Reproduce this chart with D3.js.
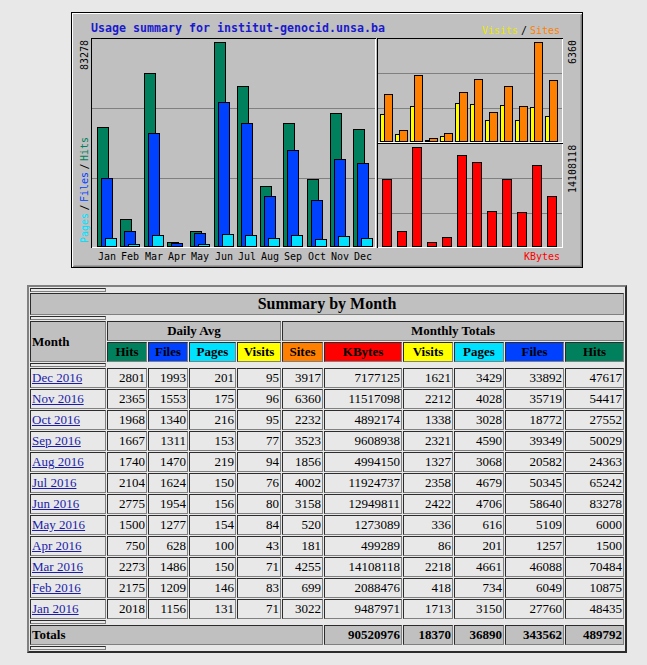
<!DOCTYPE html>
<html><head><meta charset="utf-8">
<script src="https://cdn.jsdelivr.net/npm/d3@7"></script>
<style>
html,body{margin:0;padding:0;background:#E8E8E8;width:647px;height:665px;overflow:hidden;}
svg{position:absolute;left:0;top:0;}
table.sum{position:absolute;left:27px;top:285px;width:600px;table-layout:fixed;border-collapse:separate;border-spacing:1px;border:2px outset #808080;}
table.sum td,table.sum th{border:1px inset #808080;padding:1px;font-family:"Liberation Serif","Times New Roman",serif;font-size:13px;line-height:16px;white-space:nowrap;overflow:hidden;color:#000;}
table.sum th{font-weight:bold;}
table.sum th.gray{background:#C0C0C0;}
table.sum th.title{font-size:16px;line-height:18px;text-align:center;}
table.sum .left{text-align:left;}
table.sum td.num,table.sum th.num{text-align:right;}
table.sum tr.spacer th{padding:1px;line-height:0;font-size:0;}
table.sum a{color:#1c1ca8;text-decoration:underline;}
</style>
</head><body>
<script>
// ---------------- data ----------------
const monthAbbr = ["Jan","Feb","Mar","Apr","May","Jun","Jul","Aug","Sep","Oct","Nov","Dec"];
const yearLabel = "2016";
const siteName = "institut-genocid.unsa.ba";
const dailyHits   = [2018, 2175, 2273, 750, 1500, 2775, 2104, 1740, 1667, 1968, 2365, 2801];
const dailyFiles  = [1156, 1209, 1486, 628, 1277, 1954, 1624, 1470, 1311, 1340, 1553, 1993];
const dailyPages  = [131, 146, 150, 100, 154, 156, 150, 219, 153, 216, 175, 201];
const dailyVisits = [71, 83, 71, 43, 84, 80, 76, 94, 77, 95, 96, 95];
const sites  = [3022, 699, 4255, 181, 520, 3158, 4002, 1856, 3523, 2232, 6360, 3917];
const kbytes = [9487971, 2088476, 14108118, 499289, 1273089, 12949811, 11924737, 4994150, 9608938, 4892174, 11517098, 7177125];
const visits = [1713, 418, 2218, 86, 336, 2422, 2358, 1327, 2321, 1338, 2212, 1621];
const pages  = [3150, 734, 4661, 201, 616, 4706, 4679, 3068, 4590, 3028, 4028, 3429];
const files  = [27760, 6049, 46088, 1257, 5109, 58640, 50345, 20582, 39349, 18772, 35719, 33892];
const hits   = [48435, 10875, 70484, 1500, 6000, 83278, 65242, 24363, 50029, 27552, 54417, 47617];
const totalsRow = [90520976, 18370, 36890, 343562, 489792];
const colLabels = ["Hits","Files","Pages","Visits","Sites","KBytes","Visits","Pages","Files","Hits"];

// ---------------- styles ----------------
const C = {hit:"#00805C", file:"#0040FF", page:"#00E0FF", visit:"#FFFF00", site:"#FF8000", kbyte:"#FF0000",
           grey:"#C0C0C0", dk:"#808080", title:"#1a1acc"};
const colColors = [C.hit,C.file,C.page,C.visit,C.site,C.kbyte,C.visit,C.page,C.file,C.hit];
const colWidths = [76,40,40,47,44,41,78,50,50,59,59];

// ---------------- chart ----------------
const svg = d3.select("body").append("svg").attr("width",647).attr("height",280)
  .attr("shape-rendering","crispEdges");
const mono = "'DejaVu Sans Mono', 'Liberation Mono', monospace";

// outer image box with bevel
svg.append("rect").attr("x",71).attr("y",12).attr("width",512).attr("height",256).attr("fill",C.grey);
const line = (x1,y1,x2,y2,c)=>svg.append("line").attr("x1",x1).attr("y1",y1).attr("x2",x2).attr("y2",y2).attr("stroke",c).attr("stroke-width",1);
line(71,12.5,583,12.5,"#000"); line(71.5,12,71.5,268,"#000");
line(72,13.5,582,13.5,"#fff"); line(72.5,13,72.5,267,"#fff");
line(71,267.5,583,267.5,"#000"); line(582.5,12,582.5,268,"#000");
line(73,266.5,582,266.5,C.dk); line(581.5,14,581.5,267,C.dk);
line(74,265.5,581,265.5,"#a0a0a0"); line(580.5,15,580.5,266,"#a0a0a0");

// panels
const main = {x0:91, x1:375, y0:38, y1:247};
const pVS  = {x0:377, x1:562, y0:38, y1:142};
const pKB  = {x0:377, x1:562, y0:143, y1:247};
function panel(p){
  const g = d3.scaleLinear().domain([0,3]).range([p.y1,p.y0]);
  [1,2].forEach(k=>{ const y=Math.ceil(g(k)); line(p.x0+1,y+0.5,p.x1,y+0.5,C.dk); });
  line(p.x0,p.y0+0.5,p.x1+1,p.y0+0.5,"#000"); line(p.x0+0.5,p.y0,p.x0+0.5,p.y1+1,"#000");
  line(p.x0+1,p.y1+0.5,p.x1+1,p.y1+0.5,"#fff"); line(p.x1+0.5,p.y0+1,p.x1+0.5,p.y1+1,"#fff");
}
[main,pVS,pKB].forEach(panel);

const xMain = d3.scaleBand().domain(monthAbbr).range([97, 97+12*23.3]);
const xSide = d3.scaleBand().domain(monthAbbr).range([380, 380+12*15]);
const yMain = d3.scaleLinear().domain([0, d3.max(hits)]).range([246, 42]);
const yVS   = d3.scaleLinear().domain([0, d3.max(sites.concat(visits))]).range([141, 42]);
const yKB   = d3.scaleLinear().domain([0, d3.max(kbytes)]).range([246, 147]);

function bars(vals, xs, off, w, ys, base, color){
  svg.append("g").selectAll("rect").data(vals).join("rect")
    .attr("x",(d,i)=>Math.round(xs(monthAbbr[i]))+off+0.5)
    .attr("y",d=>Math.round(ys(d))+0.5)
    .attr("width",w)
    .attr("height",d=>Math.max(0, base-Math.round(ys(d))))
    .attr("fill",color).attr("stroke","#000").attr("stroke-width",1);
}
bars(hits,  xMain, 0, 11, yMain, 246, C.hit);
bars(files, xMain, 4, 11, yMain, 246, C.file);
bars(pages, xMain, 8, 11, yMain, 246, C.page);
bars(visits, xSide, 0, 5, yVS, 141, C.visit);
bars(sites,  xSide, 4, 8, yVS, 141, C.site);
bars(kbytes, xSide, 2, 9, yKB, 246, C.kbyte);

// texts
svg.append("text").attr("x",91).attr("y",32).attr("font-family",mono).attr("font-weight","bold")
  .attr("font-size","11.6px").attr("fill",C.title).attr("textLength",294).attr("lengthAdjust","spacing")
  .attr("shape-rendering","auto")
  .text("Usage summary for "+siteName);

svg.append("g").selectAll("text").data(monthAbbr).join("text")
  .attr("x",d=>Math.round(xMain(d))+10).attr("y",260).attr("text-anchor","middle")
  .attr("font-family",mono).attr("font-size","10px").attr("fill","#000").text(d=>d);

function upText(x,y,str,color){
  svg.append("text").attr("transform",`translate(${x},${y}) rotate(-90)`)
    .attr("font-family",mono).attr("font-size","10px").attr("fill",color).text(str);
}
upText(87.5, 70, String(d3.max(hits)), "#000");
upText(575.5, 64, String(d3.max(sites.concat(visits))), "#000");
upText(575.5, 193, String(d3.max(kbytes)), "#000");
// Pages / Files / Hits legend
upText(87.5, 243, "Pages", C.page);
upText(87.5, 210.5, "/", "#000");
upText(87.5, 202, "Files", C.file);
upText(87.5, 169.5, "/", "#000");
upText(87.5, 161, "Hits", C.hit);

const tx = (x,y,str,color,anchor)=>svg.append("text").attr("x",x).attr("y",y).attr("text-anchor",anchor||"start")
  .attr("font-family",mono).attr("font-size","10px").attr("fill",color).text(str);
tx(482,34,"Visits","#e8e800");
tx(521,34,"/","#000");
tx(560,34,"Sites",C.site,"end");
tx(560,260,"KBytes",C.kbyte,"end");

// ---------------- table ----------------
const table = d3.select("body").append("table").attr("class","sum");
table.append("colgroup").selectAll("col").data(colWidths).join("col").style("width",d=>d+"px");
const tb = table.append("tbody");
const spacer = ()=>tb.append("tr").attr("class","spacer").append("th");
spacer();
tb.append("tr").append("th").attr("colspan",11).attr("class","gray title").text("Summary by Month");
spacer();
let r = tb.append("tr");
r.append("th").attr("rowspan",2).attr("class","gray left").text("Month");
r.append("th").attr("colspan",4).attr("class","gray").text("Daily Avg");
r.append("th").attr("colspan",6).attr("class","gray").text("Monthly Totals");
tb.append("tr").selectAll("th").data(colLabels).join("th")
  .style("background",(d,i)=>colColors[i]).text(d=>d);
spacer();
const order = d3.range(11,-1,-1);
const rows = tb.selectAll("tr.m").data(order).join("tr").attr("class","m");
rows.append("td").append("a").attr("href","#").text(i=>monthAbbr[i]+" "+yearLabel);
rows.selectAll("td.num").data(i=>[dailyHits[i],dailyFiles[i],dailyPages[i],dailyVisits[i],sites[i],kbytes[i],visits[i],pages[i],files[i],hits[i]])
  .join("td").attr("class","num").text(d=>d);
spacer();
const tr = tb.append("tr");
tr.append("th").attr("colspan",6).attr("class","gray left").text("Totals");
tr.selectAll("th.num").data(totalsRow).join("th").attr("class","gray num").text(d=>d);
spacer();
</script>
</body></html>
